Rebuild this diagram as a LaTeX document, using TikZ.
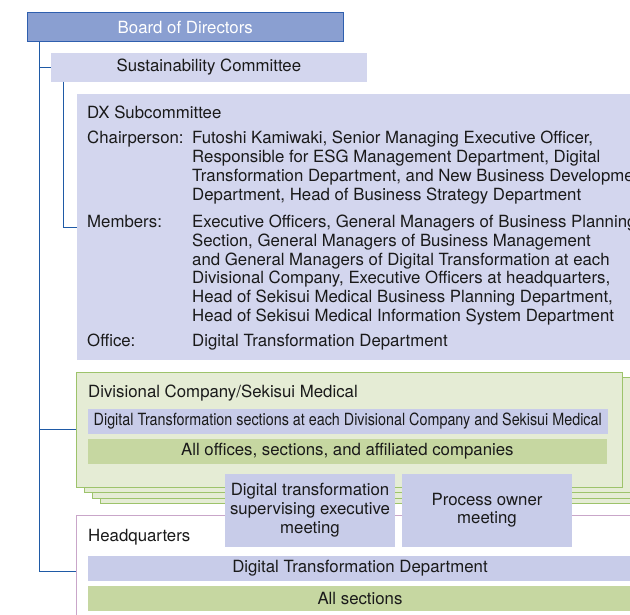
\documentclass[tikz,border=0pt]{standalone}
\usepackage{fontspec}
\setmainfont{TeX Gyre Heros}
\usepackage{graphicx}
\usetikzlibrary{calc}
\definecolor{boardfill}{HTML}{8A9FD1}
\definecolor{boardline}{HTML}{2F5FAE}
\definecolor{lav}{HTML}{D3D6EE}
\definecolor{lavbar}{HTML}{C8CCE9}
\definecolor{treeblue}{HTML}{1F5AA6}
\definecolor{divfill}{HTML}{E5ECD5}
\definecolor{divline}{HTML}{9DC36B}
\definecolor{greenbar}{HTML}{C6D7A1}
\definecolor{hqline}{HTML}{C9A6C9}
\definecolor{txt}{HTML}{1A1A1A}
\begin{document}
\begin{tikzpicture}[x=1pt,y=-1pt,
  font=\fontsize{16.8}{18.8}\selectfont, text=txt,
  rbox/.style={anchor=north west, inner sep=0pt, outer sep=0pt},
  boardbox/.style={rbox, fill=boardfill, draw=boardline, line width=1pt, text=white, minimum width=316pt, minimum height=29.4pt},
  lavbox/.style={rbox, fill=lav},
  divbox/.style={rbox, fill=divfill, draw=divline, line width=1pt, minimum width=546.3pt, minimum height=115pt},
  barlav/.style={rbox, fill=lavbar, minimum height=24.5pt},
  bargreen/.style={rbox, fill=greenbar, minimum height=24.7pt},
  meetbox/.style={rbox, fill=lavbar, minimum width=170pt, minimum height=72.5pt, align=center},
  hqbox/.style={rbox, fill=white, draw=hqline, line width=1pt, minimum width=570pt, minimum height=112.6pt},
  lbl/.style={anchor=base west, inner sep=0pt},
  tree/.style={draw=treeblue, line width=0.9pt}
]
\useasboundingbox (0,0) rectangle (630,615);
\clip (0,0) rectangle (630,615);

% top boxes
\node[boardbox] (board) at (27.3,12.3) {Board of Directors};
\node[lavbox, minimum width=315.7pt, minimum height=28.7pt] (sus) at (51,53) {Sustainability Committee};
\node[lavbox, minimum width=570pt, minimum height=266pt] (dx) at (77.3,94) {};

% DX text
\node[lbl] (dxt) at (87,119) {DX Subcommittee};
\node[lbl] (chl) at (87,144) {Chairperson:};
\node[lbl] (ch1) at (192,144) {Futoshi Kamiwaki, Senior Managing Executive Officer,};
\node[lbl] (ch2) at (192,162.8) {Responsible for ESG Management Department, Digital};
\node[lbl] (ch3) at (192,181.6) {Transformation Department, and New Business Development};
\node[lbl] (ch4) at (192,200.4) {Department, Head of Business Strategy Department};
\node[lbl] (mel) at (87,227.5) {Members:};
\node[lbl] (me1) at (192,227.5) {Executive Officers, General Managers of Business Planning};
\node[lbl] (me2) at (192,246.3) {Section, General Managers of Business Management};
\node[lbl] (me3) at (192,265.1) {and General Managers of Digital Transformation at each};
\node[lbl] (me4) at (192,283.9) {Divisional Company, Executive Officers at headquarters,};
\node[lbl] (me5) at (192,302.7) {Head of Sekisui Medical Business Planning Department,};
\node[lbl] (me6) at (192,321.5) {Head of Sekisui Medical Information System Department};
\node[lbl] (ofl) at (87,346.5) {Office:};
\node[lbl] (of1) at (192,346.5) {Digital Transformation Department};

% divisional stack
\node[divbox] (div3) at (100.9,388.8) {};
\node[divbox] (div2) at (92.6,383.2) {};
\node[divbox] (div1) at (84.3,377.6) {};
\node[divbox] (div) at (76,372) {};
\node[lbl] (divt) at (88,397.5) {Divisional Company/Sekisui Medical};
\node[barlav, minimum width=519.5pt] (dtsec) at (88,409.3) {\resizebox{508pt}{\height}{Digital Transformation sections at each Divisional Company and Sekisui Medical}};
\node[bargreen, minimum width=518.7pt] (alloff) at (88,439) {All offices, sections, and affiliated companies};

% headquarters
\node[hqbox] (hq) at (76,515) {};
\node[lbl] (hqt) at (88,541.5) {Headquarters};
\node[barlav, minimum width=544pt, minimum height=24.7pt] (dtdep) at (88,556) {Digital Transformation Department};
\node[bargreen, minimum width=544pt] (allsec) at (88,586) {All sections};

% meetings
\node[meetbox] (m1) at (225,474) {Digital transformation\\supervising executive\\meeting};
\node[meetbox] (m2) at (402,474) {Process owner\\meeting};

% tree connectors
\draw[tree] (board.south west) ++(12.2,0) coordinate (v1) |- (hq.west);
\draw[tree] (v1 |- sus.west) -- (sus.west);
\draw[tree] (v1 |- div.west) -- (div.west);
\draw[tree] (sus.south west) ++(12.3,0) |- (dx.west);
\end{tikzpicture}
\end{document}
